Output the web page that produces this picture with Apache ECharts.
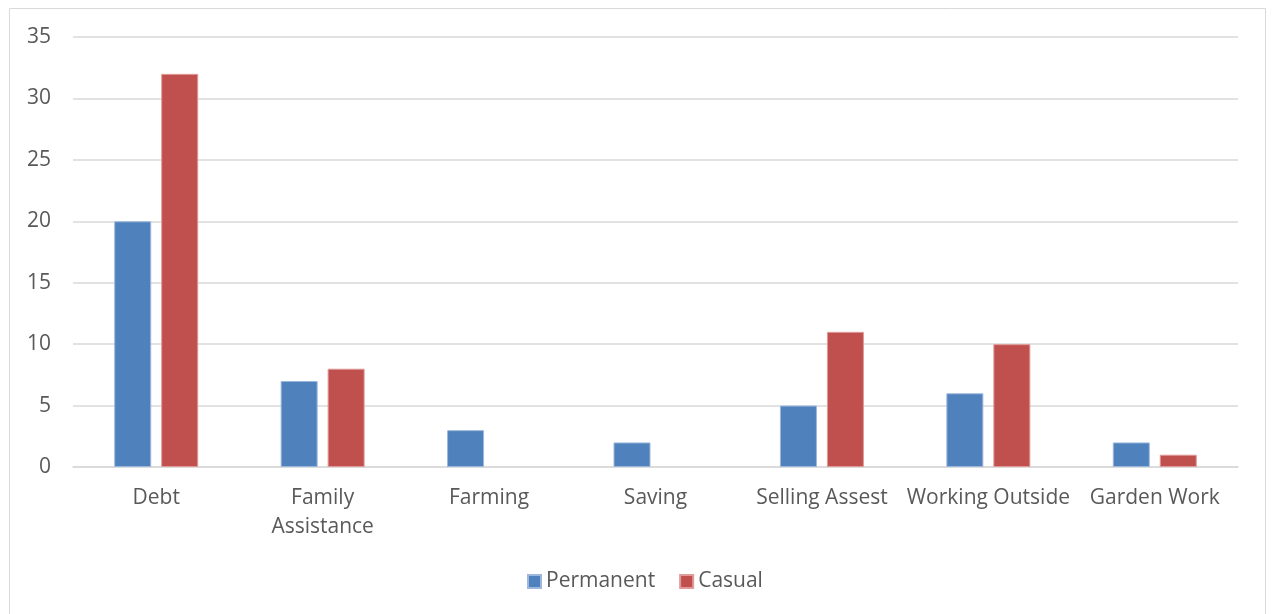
<!DOCTYPE html>
<html><head><meta charset="utf-8">
<script src="https://cdn.jsdelivr.net/npm/echarts@6/dist/echarts.min.js"></script>
<style>html,body{margin:0;padding:0;background:#fff}#c{width:1272px;height:614px}</style>
</head><body><div id="c"></div>
<script>
const categories = ['Debt', 'Family\nAssistance', 'Farming', 'Saving', 'Selling Assest', 'Working Outside', 'Garden Work'];
const permanent = [20, 7, 3, 2, 5, 6, 2];
const casual = [32, 8, 0, 0, 11, 10, 1];
const seriesNames = ['Permanent', 'Casual'];

const chart = echarts.init(document.getElementById('c'));
const font = '"Open Sans", sans-serif';
const fs = 21;
chart.setOption({
  animation: false,
  textStyle: { fontFamily: font },
  graphic: [{ type: 'rect', shape: { x: 9.5, y: 8.5, width: 1256, height: 620 }, style: { fill: 'none', stroke: '#d9d9d9', lineWidth: 1 }, silent: true }],
  grid: { left: 73, right: 34, top: 37, bottom: 147, containLabel: false },
  legend: {
    bottom: 17, left: 522, itemWidth: 13, itemHeight: 13, itemGap: 24,
    icon: 'rect',
    textStyle: { color: '#595959', fontSize: fs, fontFamily: font },
    data: seriesNames
  },
  xAxis: {
    type: 'category', data: categories,
    axisLine: { lineStyle: { color: '#d9d9d9', width: 1.5 } },
    axisTick: { show: false },
    axisLabel: { color: '#595959', fontSize: fs, fontFamily: font, margin: 17, interval: 0, lineHeight: 29 }
  },
  yAxis: {
    type: 'value', min: 0, max: 35, interval: 5,
    axisLine: { show: false }, axisTick: { show: false },
    splitLine: { lineStyle: { color: '#d9d9d9', width: 1.5 } },
    axisLabel: { color: '#595959', fontSize: fs, fontFamily: font, margin: 22 }
  },
  series: [
    { name: seriesNames[0], type: 'bar', data: permanent.map(v => v === 0 ? '-' : v), barWidth: 37, barGap: '27%',
      itemStyle: { color: '#4F81BD', borderColor: '#9db8dc', borderWidth: 1 } },
    { name: seriesNames[1], type: 'bar', data: casual.map(v => v === 0 ? '-' : v), barWidth: 37,
      itemStyle: { color: '#C0504D', borderColor: '#e09a98', borderWidth: 1 } }
  ]
});
</script></body></html>
